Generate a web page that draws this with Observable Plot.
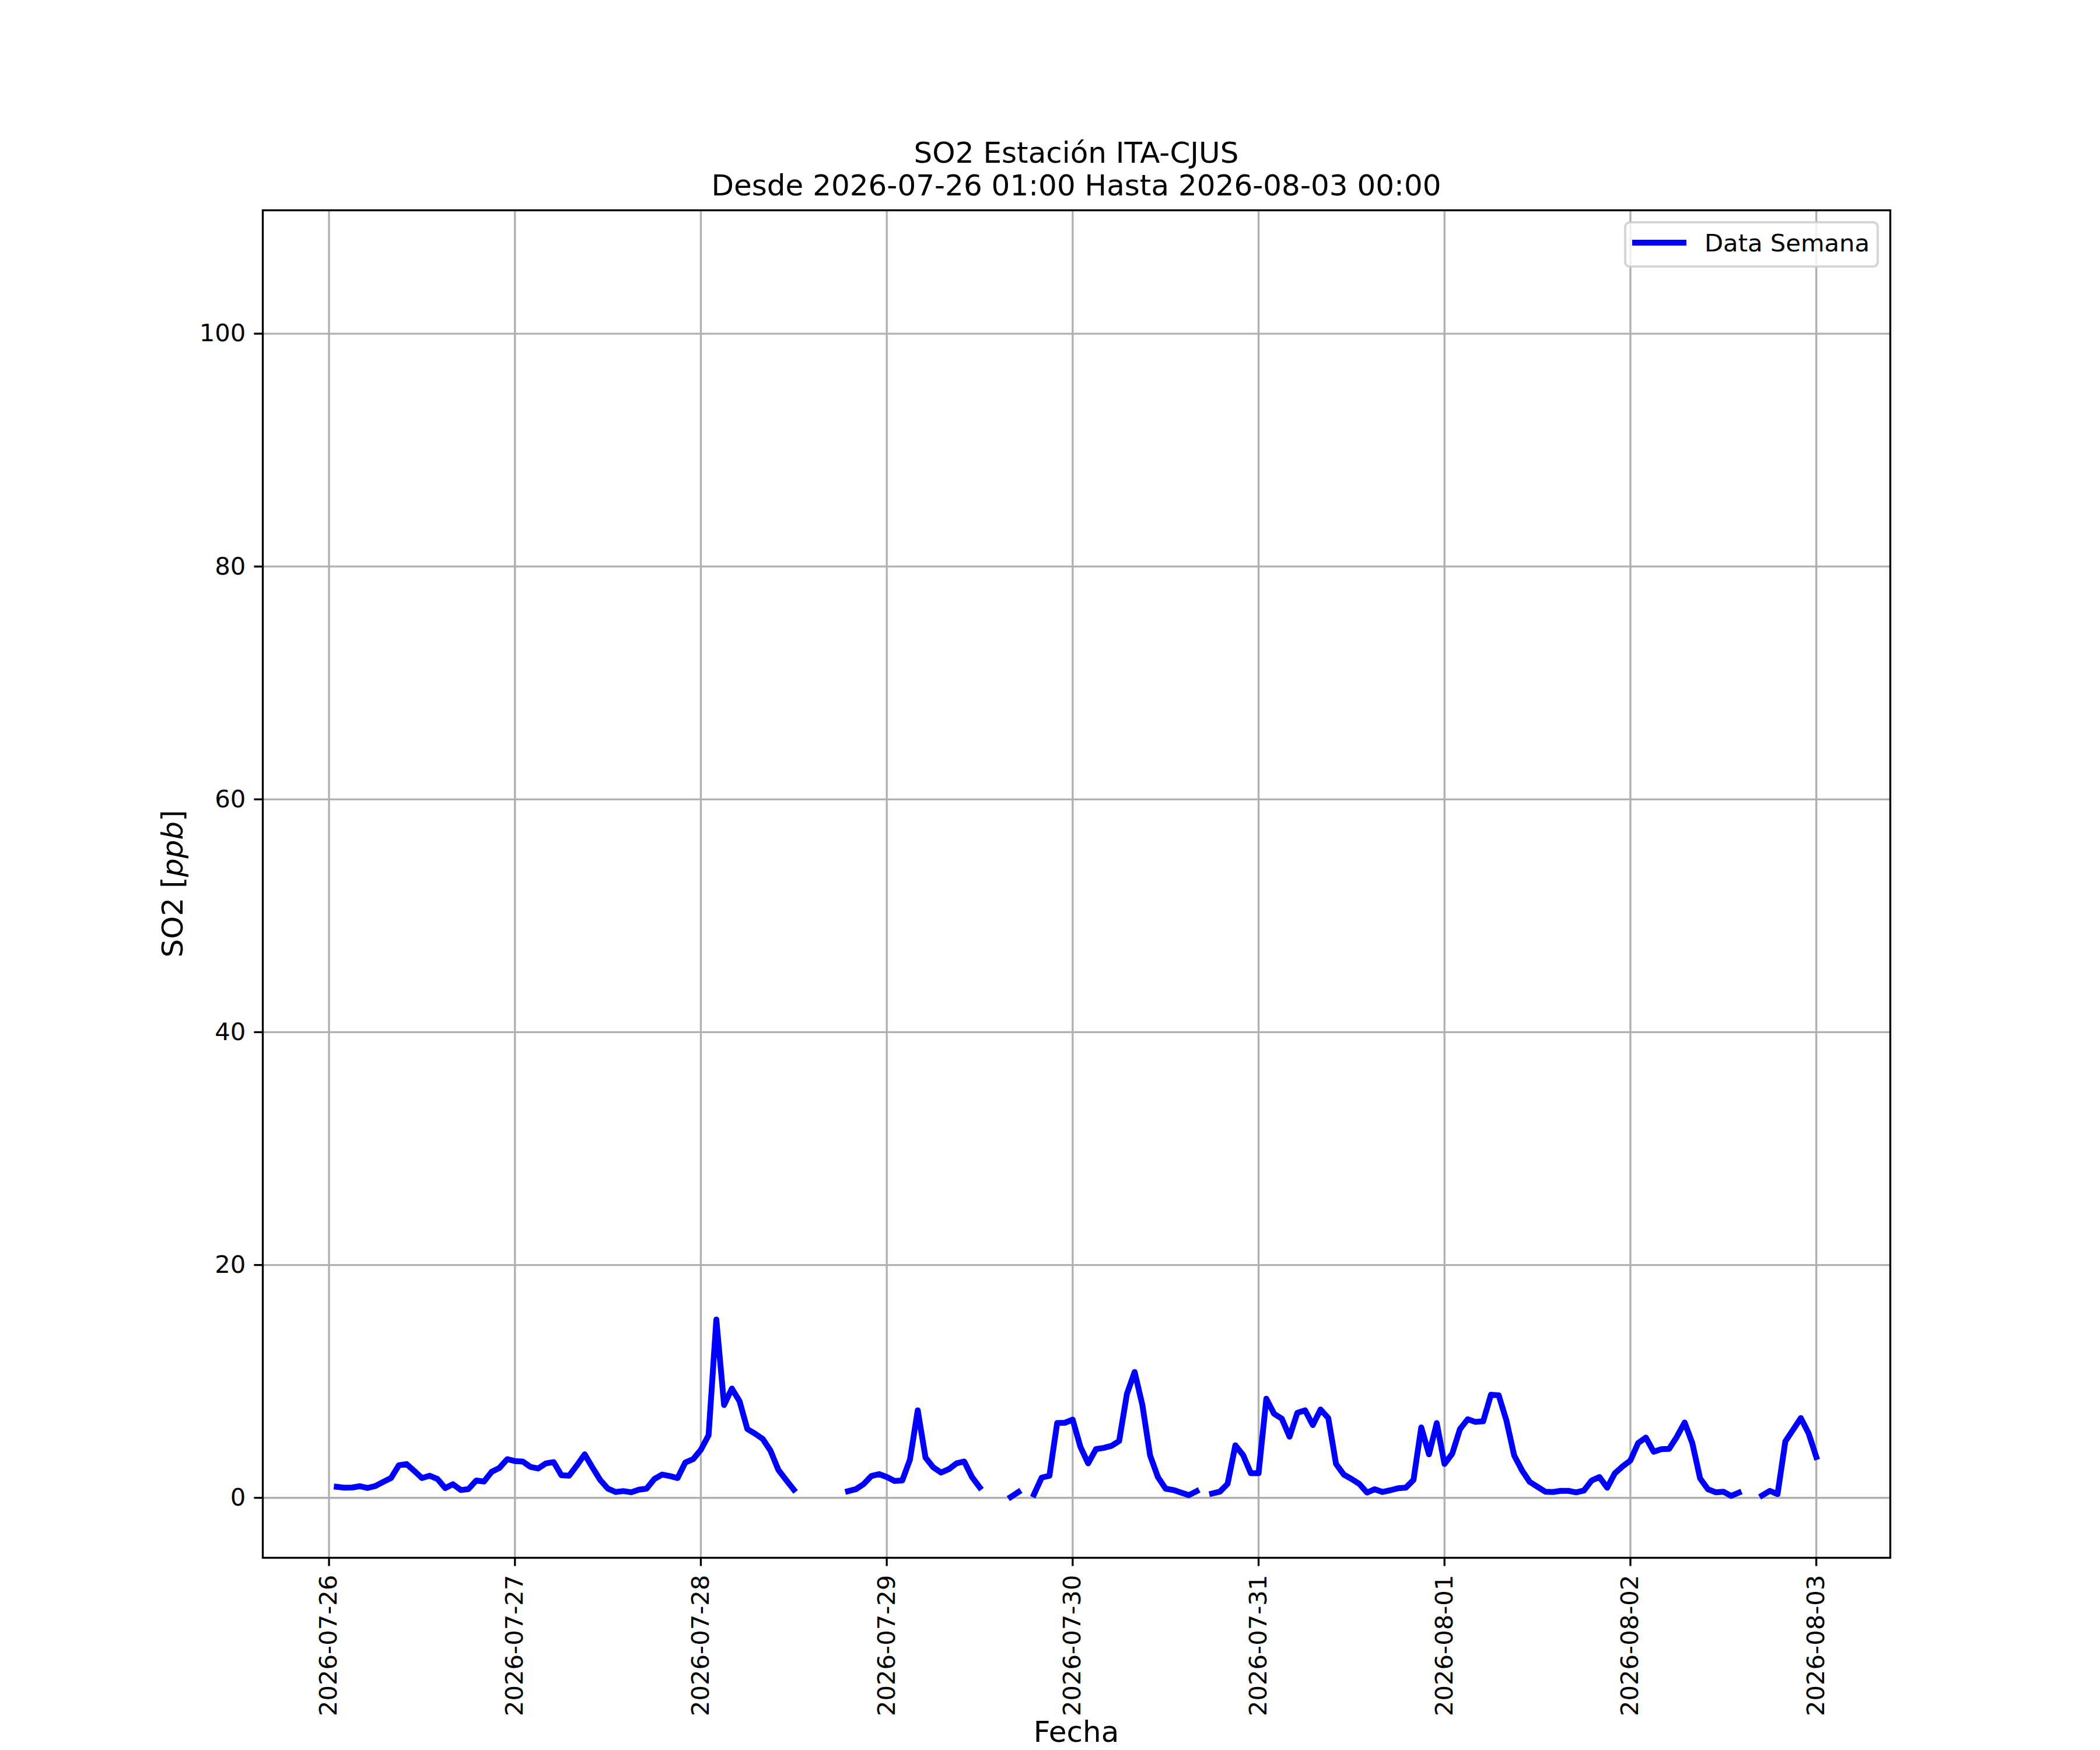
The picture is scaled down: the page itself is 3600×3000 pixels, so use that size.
<!DOCTYPE html>
<html><head><meta charset="utf-8">
<script src="https://cdn.jsdelivr.net/npm/d3@7"></script>
<script src="https://cdn.jsdelivr.net/npm/@observablehq/plot@0.6"></script>
<style>
html,body{margin:0;padding:0;background:#fff;overflow:hidden;}
#chart{width:3600px;height:3000px;}
</style></head><body><div id="chart"></div>
<script>
// ---- data (hourly SO2, ppb) ----
const startTime = "2026-07-26T01:00:00Z";
const so2 = [
  0.95,0.87,0.89,1.0,0.85,1.02,1.37,1.7,2.79,2.9,2.32,1.7,
  1.9,1.62,0.84,1.17,0.67,0.75,1.49,1.4,2.24,2.57,3.32,3.16,
  3.12,2.66,2.52,2.96,3.07,1.94,1.9,2.79,3.74,2.62,1.54,0.79,
  0.5,0.58,0.48,0.7,0.79,1.62,2.0,1.87,1.7,3.04,3.32,4.13,
  5.38,15.32,7.97,9.39,8.3,5.91,5.51,5.05,4.04,2.41,1.54,0.7,
  null,null,null,null,null,null,0.57,0.74,1.17,1.87,2.04,1.79,
  1.45,1.49,3.29,7.52,3.46,2.62,2.17,2.46,2.96,3.12,1.79,0.9,
  null,null,null,0.07,0.5,null,0.28,1.74,1.9,6.43,6.45,6.72,
  4.38,2.96,4.18,4.29,4.46,4.88,8.92,10.81,7.97,3.63,1.79,0.79,
  0.67,0.45,0.23,0.57,null,0.37,0.53,1.2,4.51,3.68,2.12,2.12,
  8.52,7.22,6.8,5.25,7.3,7.52,6.25,7.59,6.85,2.91,2.0,1.62,
  1.2,0.45,0.74,0.5,0.65,0.82,0.87,1.54,6.05,3.74,6.42,2.91,
  3.79,5.91,6.75,6.52,6.58,8.86,8.81,6.63,3.63,2.37,1.37,0.95,
  0.53,0.5,0.6,0.6,0.47,0.63,1.49,1.79,0.87,2.12,2.71,3.21,
  4.71,5.18,3.96,4.18,4.21,5.25,6.47,4.68,1.67,0.74,0.48,0.53,
  0.17,0.45,null,null,0.2,0.6,0.32,4.85,5.85,6.85,5.55,3.51
];
const dayTicks = ["2026-07-26","2026-07-27","2026-07-28","2026-07-29","2026-07-30","2026-07-31","2026-08-01","2026-08-02","2026-08-03"];
const yTicks = [0, 20, 40, 60, 80, 100];
const yDomain = [-5.15, 110.6];
const seriesName = "Data Semana";
const titleLines = ["SO2 Estación ITA-CJUS", "Desde 2026-07-26 01:00 Hasta 2026-08-03 00:00"];
const xLabel = "Fecha";
const yLabelParts = ["SO2 [", "ppb", "]"];

// ---- build ----
const t0 = new Date(startTime);
const rows = so2.map((v, i) => ({date: d3.utcHour.offset(t0, i), value: v}));
const [dmin, dmax] = d3.extent(rows, d => d.date);
const padT = (dmax - dmin) * 0.05;
const xDomain = [new Date(+dmin - padT), new Date(+dmax + padT)];
const dayDates = dayTicks.map(s => new Date(s + "T00:00:00Z"));

const FONT = "DejaVu Sans";
const W = 3600, H = 3000, ML = 450, MR = 360, MT = 360, MB = 330;
const LW = 3.33, TICK = 14.6, TICKFS = 41.7, LABELFS = 50;

const svg = Plot.plot({
  width: W, height: H,
  marginLeft: ML, marginRight: MR, marginTop: MT, marginBottom: MB,
  style: {fontFamily: FONT, color: "black", background: "white", overflow: "visible"},
  x: {type: "utc", domain: xDomain},
  y: {domain: yDomain},
  marks: [
    Plot.gridX(dayDates, {stroke: "#b0b0b0", strokeOpacity: 1, strokeWidth: LW}),
    Plot.gridY(yTicks, {stroke: "#b0b0b0", strokeOpacity: 1, strokeWidth: LW}),
    Plot.lineY(rows, {x: "date", y: "value", stroke: "blue", strokeWidth: 10, strokeLinecap: "square", strokeLinejoin: "round"}),
    Plot.frame({stroke: "black", strokeWidth: LW}),
    Plot.axisX(dayDates, {tickSize: TICK, tickPadding: TICK, tickRotate: -90, tickFormat: d3.utcFormat("%Y-%m-%d"), fontSize: TICKFS, strokeWidth: LW, label: null}),
    Plot.axisY(yTicks, {tickSize: TICK, tickPadding: TICK, fontSize: TICKFS, strokeWidth: LW, label: null})
  ]
});

const s = d3.select(svg);
const cx = ML + (W - ML - MR) / 2;
const g = s.append("g").attr("font-family", FONT).attr("fill", "black");
// title
g.append("text").attr("x", cx).attr("y", 279).attr("text-anchor", "middle").attr("font-size", LABELFS).text(titleLines[0]);
g.append("text").attr("x", cx).attr("y", 335).attr("text-anchor", "middle").attr("font-size", LABELFS).text(titleLines[1]);
// x label
g.append("text").attr("x", cx).attr("y", 2986).attr("text-anchor", "middle").attr("font-size", LABELFS).text(xLabel);
// y label
const yl = g.append("text").attr("transform", `translate(313,${MT + (H - MT - MB) / 2}) rotate(-90)`)
  .attr("text-anchor", "middle").attr("font-size", LABELFS);
yl.append("tspan").text(yLabelParts[0]);
yl.append("tspan").attr("font-style", "italic").text(yLabelParts[1]);
yl.append("tspan").text(yLabelParts[2]);
// legend
const lg = s.append("g").attr("font-family", FONT);
lg.append("rect").attr("x", 2786).attr("y", 381).attr("width", 433).attr("height", 76).attr("rx", 8)
  .attr("fill", "white").attr("fill-opacity", 0.8).attr("stroke", "#cccccc").attr("stroke-opacity", 0.8).attr("stroke-width", 4.2);
lg.append("line").attr("x1", 2803).attr("x2", 2886).attr("y1", 416).attr("y2", 416)
  .attr("stroke", "blue").attr("stroke-width", 10).attr("stroke-linecap", "square");
lg.append("text").attr("x", 2922).attr("y", 431).attr("text-anchor", "start").attr("font-size", TICKFS).attr("fill", "black").text(seriesName);

document.getElementById("chart").appendChild(svg);
</script>
</body></html>
